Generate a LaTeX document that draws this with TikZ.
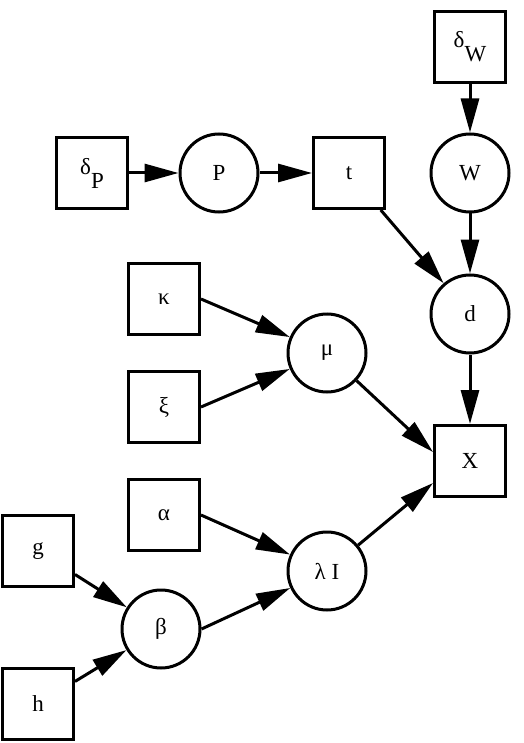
\documentclass[tikz,border=0pt]{standalone}
\usepackage{fontspec}
\setmainfont{Liberation Serif}
\usetikzlibrary{arrows.meta}
\begin{document}
\begin{tikzpicture}[x=1pt,y=-1pt,
  lbl/.style={font=\fontsize{23}{27}\selectfont, line width=3pt, draw, inner sep=0pt},
  sq/.style={lbl, rectangle, minimum size=71pt},
  cc/.style={lbl, circle, minimum size=78pt},
  edge/.style={line width=3pt, -{Triangle[length=34pt,width=18pt]}}]
\useasboundingbox (0,0) rectangle (523,743);
\node[sq] (dW) at (470,47) {δ\raisebox{-14pt}{W}};
\node[cc] (W) at (470,173) {W};
\node[sq] (dP) at (92,173) {δ\raisebox{-14pt}{P}};
\node[cc] (P) at (219,173) {P};
\node[sq] (t) at (349,173) {t};
\node[cc] (d) at (470,314) {d};
\node[sq] (ka) at (164,299) {κ};
\node[cc] (mu) at (327,353) {μ};
\node[sq] (xi) at (164,407) {ξ};
\node[sq] (X) at (470,461) {X};
\node[sq] (al) at (164,515) {α};
\node[cc] (lI) at (327,571) {λ I};
\node[sq] (g) at (38,551) {g};
\node[cc] (be) at (161,629) {β};
\node[sq] (h) at (38,704) {h};
\draw[edge] (dP) -- (P);
\draw[edge] (P) -- (t);
\draw[edge] (dW) -- (W);
\draw[edge] (W) -- (d);
\draw[edge] (t) -- (d);
\draw[edge] (d) -- (X);
\draw[edge] (ka.east) -- (mu);
\draw[edge] (xi.east) -- (mu);
\draw[edge] (mu) -- ([yshift=9pt]X.west);
\draw[edge] (al.east) -- (lI);
\draw[edge] (be.east) -- (lI);
\draw[edge] (lI) -- ([yshift=-22pt]X.west);
\draw[edge] (g) -- (be);
\draw[edge] (h) -- (be);
\end{tikzpicture}
\end{document}
